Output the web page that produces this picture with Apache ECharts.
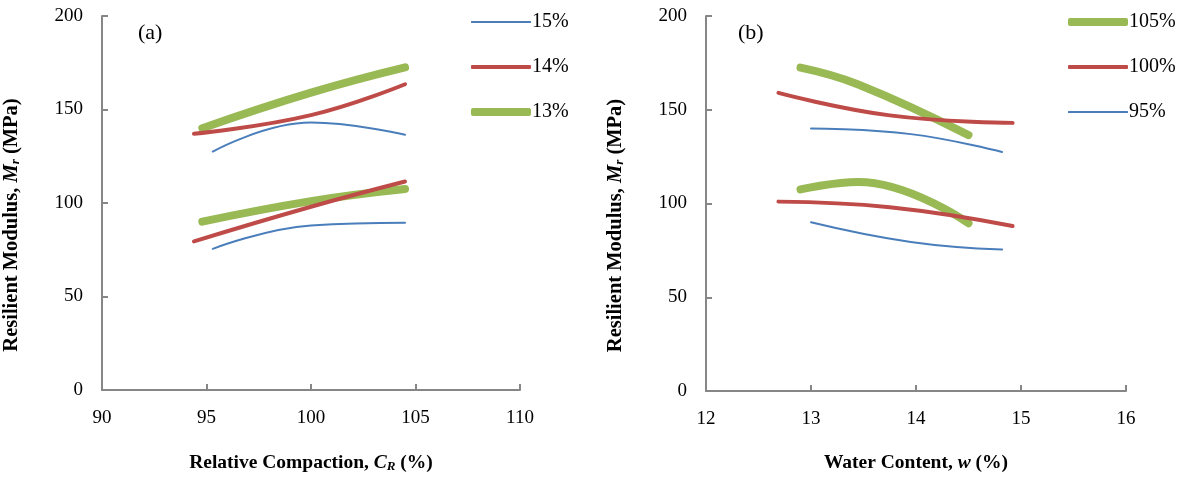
<!DOCTYPE html>
<html>
<head>
<meta charset="utf-8">
<script src="https://cdn.jsdelivr.net/npm/echarts@6/dist/echarts.min.js"></script>
<style>
html,body{margin:0;padding:0;background:#fff;}
#chart{width:1178px;height:478px;}
</style>
</head>
<body>
<div id="chart"></div>
<script>
// Nominal groups
const waterLabels = ['15%', '14%', '13%'];
const compactionLabels = ['105%', '100%', '95%'];
const xTicksA = [90, 95, 100, 105, 110];
const xTicksB = [12, 13, 14, 15, 16];
const yTicks = [0, 50, 100, 150, 200];

// Actual relative compaction (%) of each specimen, per water-content series (CR 95,100,105)
const crW13 = [94.8, 100.0, 104.5];
const crW14 = [94.4, 100.0, 104.5];
const crW15 = [95.3, 100.0, 104.5];
// Actual water content (%) of each specimen, per compaction series (w 13,14,15)
const wCR95 = [13.0, 13.95, 14.82];
const wCR100 = [12.69, 13.75, 14.92];
const wCR105 = [12.9, 13.45, 14.5];

// Resilient modulus (MPa), upper (high) and lower (low) sets; index = CR 95,100,105
const mrHighW13 = [140, 159, 172.5];
const mrHighW14 = [137, 147, 163.5];
const mrHighW15 = [127.5, 143, 136.5];
const mrLowW13 = [90, 101, 107.5];
const mrLowW14 = [79.5, 98, 111.5];
const mrLowW15 = [75.5, 88, 89.5];

const FONT = 'Liberation Serif';
const colBlue = '#4a7ebb', colRed = '#be4b48', colGreen = '#98b954';

function pts(xs, ys) { return xs.map((x, i) => [x, ys[i]]); }

const highByW = [mrHighW13, mrHighW14, mrHighW15];
const lowByW = [mrLowW13, mrLowW14, mrLowW15];
function byCR(arrs, ci) { return arrs.map(a => a[ci]); }

const styles = {
  green: { color: colGreen, width: 8 },
  red: { color: colRed, width: 4 },
  blue: { color: colBlue, width: 2 }
};

function mk(name, data, st, xi) {
  return {
    type: 'line', name: name, data: data, xAxisIndex: xi, yAxisIndex: xi,
    smooth: 0.45, symbol: 'none', showSymbol: false,
    lineStyle: { color: st.color, width: st.width, cap: 'round', join: 'round' },
    itemStyle: { color: st.color },
    emphasis: { disabled: true }
  };
}

const series = [
  // Panel (a)
  mk(waterLabels[2], pts(crW13, mrHighW13), styles.green, 0),
  mk(waterLabels[2], pts(crW13, mrLowW13), styles.green, 0),
  mk(waterLabels[1], pts(crW14, mrHighW14), styles.red, 0),
  mk(waterLabels[1], pts(crW14, mrLowW14), styles.red, 0),
  mk(waterLabels[0], pts(crW15, mrHighW15), styles.blue, 0),
  mk(waterLabels[0], pts(crW15, mrLowW15), styles.blue, 0),
  // Panel (b)
  mk(compactionLabels[0], pts(wCR105, byCR(highByW, 2)), styles.green, 1),
  mk(compactionLabels[0], pts(wCR105, byCR(lowByW, 2)), styles.green, 1),
  mk(compactionLabels[1], pts(wCR100, byCR(highByW, 1)), styles.red, 1),
  mk(compactionLabels[1], pts(wCR100, byCR(lowByW, 1)), styles.red, 1),
  mk(compactionLabels[2], pts(wCR95, byCR(highByW, 0)), styles.blue, 1),
  mk(compactionLabels[2], pts(wCR95, byCR(lowByW, 0)), styles.blue, 1)
];

function axisLine() { return { show: true, onZero: false, lineStyle: { color: '#868686', width: 2 } }; }
function axisTick() { return { show: true, inside: false, length: -6, lineStyle: { color: '#868686', width: 2 } }; }
function labelStyle(m) { return { margin: m, color: '#000', fontFamily: FONT, fontSize: 19 }; }

function nameRich(sz) {
  return {
    b: { fontFamily: FONT, fontSize: sz, fontWeight: 'bold', color: '#000' },
    i: { fontFamily: FONT, fontSize: sz, fontWeight: 'bold', fontStyle: 'italic', color: '#000' },
    s: { fontFamily: FONT, fontSize: 13, fontWeight: 'bold', fontStyle: 'italic', color: '#000', padding: [8, 0, 0, 0] }
  };
}

function xAx(idx, ticks, name) {
  return {
    type: 'value', gridIndex: idx, min: ticks[0], max: ticks[ticks.length - 1],
    interval: ticks[1] - ticks[0],
    axisLine: axisLine(), axisTick: axisTick(), splitLine: { show: false },
    axisLabel: labelStyle(19),
    name: name, nameLocation: 'middle', nameGap: 62,
    nameTextStyle: { rich: nameRich(19.5) }
  };
}
function yAx(idx) {
  return {
    type: 'value', gridIndex: idx, min: yTicks[0], max: yTicks[yTicks.length - 1],
    interval: yTicks[1] - yTicks[0],
    axisLine: axisLine(), axisTick: axisTick(), splitLine: { show: false },
    axisLabel: labelStyle(19),
    name: '{b|Resilient Modulus, }{i|M}{s|r}{b| (MPa)}', nameLocation: 'middle', nameGap: 80,
    nameRotate: 90,
    nameTextStyle: { rich: nameRich(20.5), padding: [0, 44, 0, 0] }
  };
}

function legendItem(left, centerY, name, st) {
  return {
    orient: 'vertical', left: left, top: centerY - 11, itemWidth: 60, itemHeight: st.width,
    icon: 'roundRect', itemGap: 0,
    data: [name], selectedMode: false,
    itemStyle: { color: st.color, borderWidth: 0 },
    textStyle: { fontFamily: FONT, fontSize: 20, color: '#000', padding: [0, 0, 0, -4] }
  };
}

const legendRowsY = [18, 63, 108];
const legendStyles = [styles.blue, styles.red, styles.green];
const legendStylesB = [styles.green, styles.red, styles.blue];

const legends = [];
waterLabels.forEach((n, i) => legends.push(legendItem(466, legendRowsY[i], n, legendStyles[i])));
compactionLabels.forEach((n, i) => legends.push(legendItem(1063, legendRowsY[i], n, legendStylesB[i])));

const chart = echarts.init(document.getElementById('chart'));
chart.setOption({
  animation: false,
  backgroundColor: '#fff',
  grid: [
    { left: 101, top: 16, width: 419, height: 376 },
    { left: 706, top: 16, width: 420, height: 376 }
  ],
  xAxis: [
    xAx(0, xTicksA, '{b|Relative Compaction, }{i|C}{s|R}{b| (%)}'),
    xAx(1, xTicksB, '{b|Water Content, }{i|w}{b| (%)}')
  ],
  yAxis: [yAx(0), yAx(1)],
  legend: legends,
  graphic: [
    { type: 'text', left: 138, top: 22, style: { text: '(a)', font: '22px "Liberation Serif"', fill: '#000' } },
    { type: 'text', left: 738, top: 22, style: { text: '(b)', font: '22px "Liberation Serif"', fill: '#000' } }
  ],
  series: series
});
</script>
</body>
</html>
